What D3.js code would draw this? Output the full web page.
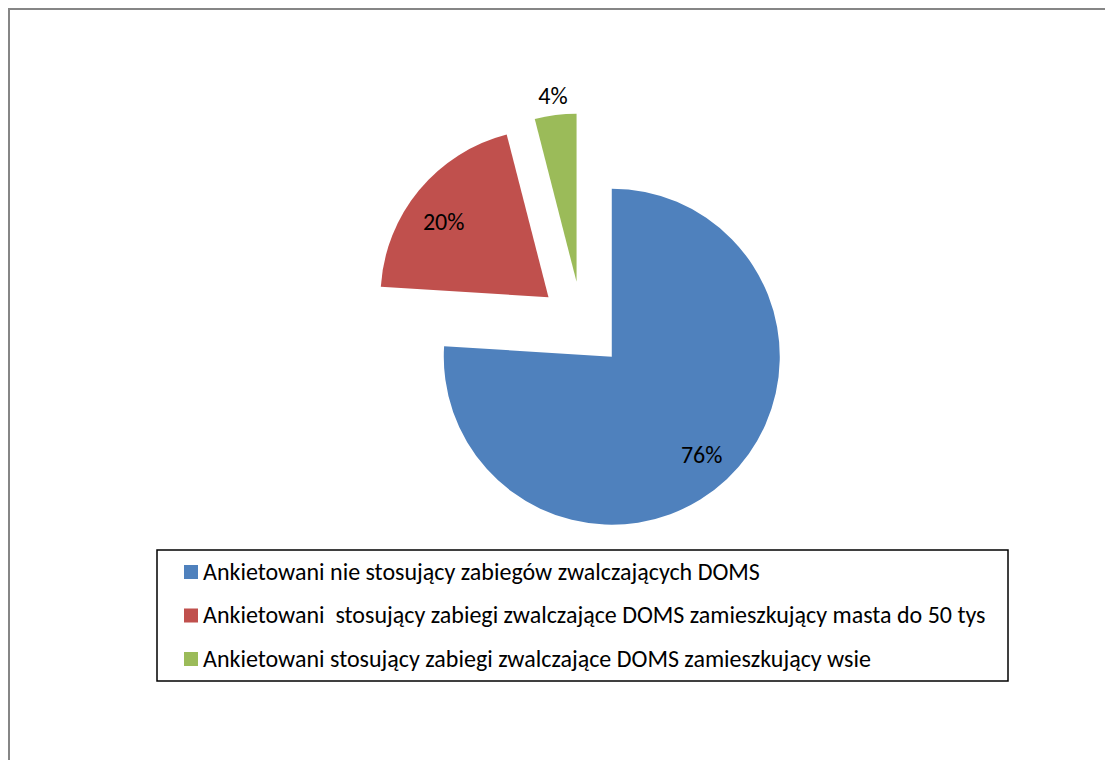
<!DOCTYPE html>
<html>
<head>
<meta charset="utf-8">
<script src="https://d3js.org/d3.v7.min.js"></script>
<style>
  body { margin: 0; background: #fff; }
  text { font-family: Carlito, Lato, "Open Sans", sans-serif; fill: #000; }
</style>
</head>
<body>
<div id="chart"></div>
<script>
// values
var categories = [
  "Ankietowani nie stosujący zabiegów zwalczających DOMS",
  "Ankietowani  stosujący zabiegi zwalczające DOMS zamieszkujący masta do 50 tys",
  "Ankietowani stosujący zabiegi zwalczające DOMS zamieszkujący wsie"
];
var values = [76, 20, 4];
var labels = ["76%", "20%", "4%"];
var colors = ["#4F81BD", "#C0504D", "#9BBB59"];

var width = 1105, height = 760;
var cx = 582, cy = 325, radius = 168, explode = 43.5;
// label placement: radius factor and small angle nudge (radians)
var labelR = [0.79, 0.77, 1.12];
var labelTurn = [0.01, -0.065, 0];

var svg = d3.select("#chart")
  .append("svg")
  .attr("width", width)
  .attr("height", height);

// chart area border (runs off right/bottom edges)
svg.append("rect")
  .attr("x", 9).attr("y", 9)
  .attr("width", 1300).attr("height", 1000)
  .attr("fill", "none")
  .attr("stroke", "#868686")
  .attr("stroke-width", 2);

var pie = d3.pie().sort(null).value(function(d){ return d; });
var arcs = pie(values);
var arc = d3.arc().innerRadius(0).outerRadius(radius);

var g = svg.append("g").attr("transform", "translate(" + cx + "," + cy + ")");

var slice = g.selectAll("g.slice")
  .data(arcs)
  .enter()
  .append("g")
  .attr("class", "slice")
  .attr("transform", function(d){
    var a = (d.startAngle + d.endAngle) / 2;
    return "translate(" + (Math.sin(a) * explode) + "," + (-Math.cos(a) * explode) + ")";
  });

slice.append("path")
  .attr("d", arc)
  .attr("fill", function(d, i){ return colors[i]; });

slice.append("text")
  .attr("x", function(d, i){ return Math.sin((d.startAngle + d.endAngle) / 2 + labelTurn[i]) * radius * labelR[i]; })
  .attr("y", function(d, i){ return -Math.cos((d.startAngle + d.endAngle) / 2 + labelTurn[i]) * radius * labelR[i]; })
  .attr("dy", "0.35em")
  .attr("text-anchor", "middle")
  .style("font-size", "24px")
  .text(function(d, i){ return labels[i]; });

// legend
var legend = svg.append("g");
legend.append("rect")
  .attr("x", 157).attr("y", 550)
  .attr("width", 851).attr("height", 131)
  .attr("fill", "#fff")
  .attr("stroke", "#000")
  .attr("stroke-width", 1.5);

var item = legend.selectAll("g.item")
  .data(categories)
  .enter()
  .append("g")
  .attr("class", "item")
  .attr("transform", function(d, i){ return "translate(184," + (572 + i * 43.5) + ")"; });

item.append("rect")
  .attr("x", 0).attr("y", -7)
  .attr("width", 14).attr("height", 14)
  .attr("fill", function(d, i){ return colors[i]; });

item.append("text")
  .attr("x", 19)
  .attr("dy", "0.33em")
  .style("font-size", "24px")
  .style("white-space", "pre")
  .attr("xml:space", "preserve")
  .text(function(d){ return d; });
</script>
</body>
</html>
